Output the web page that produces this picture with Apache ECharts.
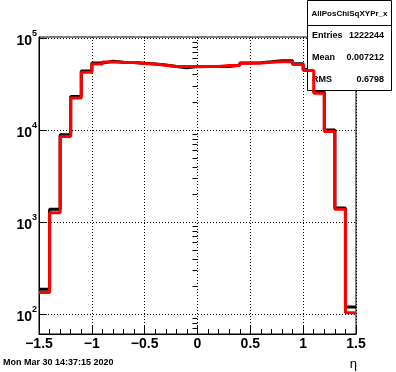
<!DOCTYPE html>
<html>
<head>
<meta charset="utf-8">
<script src="https://cdn.jsdelivr.net/npm/echarts@6/dist/echarts.min.js"></script>
<style>
html,body{margin:0;padding:0;background:#fff}
#main{width:396px;height:372px}
</style>
</head>
<body>
<div id="main"></div>
<script>
// bin lower edges in eta, last upper edge kept apart
const binEdges = [-1.5, -1.4, -1.3, -1.2, -1.1, -1.0, -0.9, -0.8, -0.7, -0.6,
  -0.5, -0.4, -0.3, -0.2, -0.1, 0.0, 0.1, 0.2, 0.3, 0.4,
  0.5, 0.6, 0.7, 0.8, 0.9, 1.0, 1.1, 1.2, 1.3, 1.4];
const upperEdge = 1.5;
// black histogram (drawn first)
const blackCounts = [187, 1384, 8890, 23200, 43800, 53500, 56000, 54800, 54300, 53200,
  52200, 50900, 49100, 47500, 49000, 49100, 49100, 49100, 50800, 53500,
  53900, 55200, 56600, 56600, 52600, 45600, 25900, 10070, 1430, 120];
// red histogram (drawn on top)
const redCounts = [172, 1271, 8520, 22400, 42700, 52200, 54900, 54500, 54300, 53000,
  52200, 50700, 49100, 49100, 49100, 49100, 49100, 50400, 50400, 53200,
  53500, 54800, 55200, 55200, 51700, 44500, 25200, 9660, 1384, 104];
// y ticks as powers of ten
const majorExp = [2, 3, 4, 5];
const minorMult = [2, 3, 4, 5, 6, 7, 8, 9];
const statsTitle = 'AllPosChiSqXYPr_x';
const statsRows = [['Entries', '1222244'], ['Mean', '0.007212'], ['RMS', '0.6798']];
const dateText = 'Mon Mar 30 14:37:15 2020';

const FONT = 'Liberation Sans';
const yMin = 1.786, yMax = 5.012;

// minor tick positions in log space
let minorTicks = [];
[1, 2, 3, 4].forEach(function (e) {
  minorMult.forEach(function (m) {
    let v = Math.log10(m * Math.pow(10, e));
    if (v >= yMin && v <= yMax) minorTicks.push(v);
  });
});

function steps(counts) {
  let pts = binEdges.map(function (e, i) { return [e, Math.log10(counts[i])]; });
  pts.push([upperEdge, Math.log10(counts[counts.length - 1])]);
  return pts;
}

const chart = echarts.init(document.getElementById('main'));

let graphics = [
  { type: 'rect', z: 2, shape: { x: 307.5, y: 0.5, width: 84, height: 90 },
    style: { fill: '#fff', stroke: '#000', lineWidth: 1 } },
  { type: 'line', z: 2, shape: { x1: 307.5, y1: 25.5, x2: 391.5, y2: 25.5 },
    style: { stroke: '#000', lineWidth: 1 } },
  { type: 'text', z: 2, x: 349.5, y: 14,
    style: { text: statsTitle, fill: '#000', font: 'bold 8px ' + FONT, align: 'center', verticalAlign: 'middle' } },
  { type: 'text', z: 2, x: 3, y: 363,
    style: { text: dateText, fill: '#000', font: 'bold 9px ' + FONT, align: 'left', verticalAlign: 'middle' } },
  { type: 'text', z: 2, x: 357, y: 364,
    style: { text: 'η', fill: '#000', font: '13px ' + FONT, align: 'right', verticalAlign: 'middle' } }
];
statsRows.forEach(function (r, i) {
  let y = 36 + i * 22;
  graphics.push({ type: 'text', z: 2, x: 312, y: y,
    style: { text: r[0], fill: '#000', font: 'bold 9px ' + FONT, align: 'left', verticalAlign: 'middle' } });
  graphics.push({ type: 'text', z: 2, x: 384, y: y,
    style: { text: r[1], fill: '#000', font: 'bold 9px ' + FONT, align: 'right', verticalAlign: 'middle' } });
});

chart.setOption({
  animation: false,
  grid: {
    left: 39, right: 40, top: 37, bottom: 38,
    show: true, borderColor: '#000', borderWidth: 1,
    outerBoundsMode: 'none'
  },
  xAxis: {
    type: 'value', min: -1.5, max: 1.5, interval: 0.5,
    axisLine: { show: true, onZero: false, lineStyle: { color: '#000', width: 1 } },
    axisTick: { show: true, inside: true, length: 8, lineStyle: { color: '#000' } },
    minorTick: { show: true, splitNumber: 5, length: 5, lineStyle: { color: '#000' } },
    splitLine: { show: true, lineStyle: { color: '#000', type: [1, 2], width: 1 } },
    axisLabel: {
      color: '#000', fontFamily: FONT, fontSize: 14, fontWeight: 'bold', margin: 3,
      showMinLabel: true, showMaxLabel: true,
      formatter: function (v) { return v < 0 ? '\u2212' + Math.abs(v) : String(v); }
    }
  },
  yAxis: [
    {
      type: 'value', min: yMin, max: yMax,
      axisLine: { show: true, onZero: false, lineStyle: { color: '#000', width: 1 } },
      axisTick: { show: true, inside: true, length: 8, customValues: majorExp, lineStyle: { color: '#000' } },
      splitLine: { show: true, lineStyle: { color: '#000', type: [1, 2], width: 1 } },
      axisLabel: {
        customValues: majorExp, margin: 2, padding: [6, 0, 0, 0],
        formatter: function (v) { return '{b|10}{s|' + Math.round(v) + '}'; },
        rich: {
          b: { fontFamily: FONT, fontSize: 14, fontWeight: 'bold', color: '#000', lineHeight: 24 },
          s: { fontFamily: FONT, fontSize: 9, fontWeight: 'bold', color: '#000', verticalAlign: 'top', lineHeight: 10 }
        }
      }
    },
    {
      type: 'value', min: yMin, max: yMax,
      axisLine: { show: false },
      axisTick: { show: true, inside: true, length: 5, customValues: minorTicks, lineStyle: { color: '#000' } },
      splitLine: { show: false },
      axisLabel: { show: false }
    }
  ],
  series: [
    {
      type: 'line', step: 'end', z: 1, data: steps(blackCounts),
      showSymbol: false, symbol: 'none',
      lineStyle: { color: '#000', width: 3 }
    },
    {
      type: 'line', step: 'end', z: 3, data: steps(redCounts),
      showSymbol: false, symbol: 'none',
      lineStyle: { color: '#ff0000', width: 3 }
    }
  ],
  graphic: { elements: graphics }
});
</script>
</body>
</html>
